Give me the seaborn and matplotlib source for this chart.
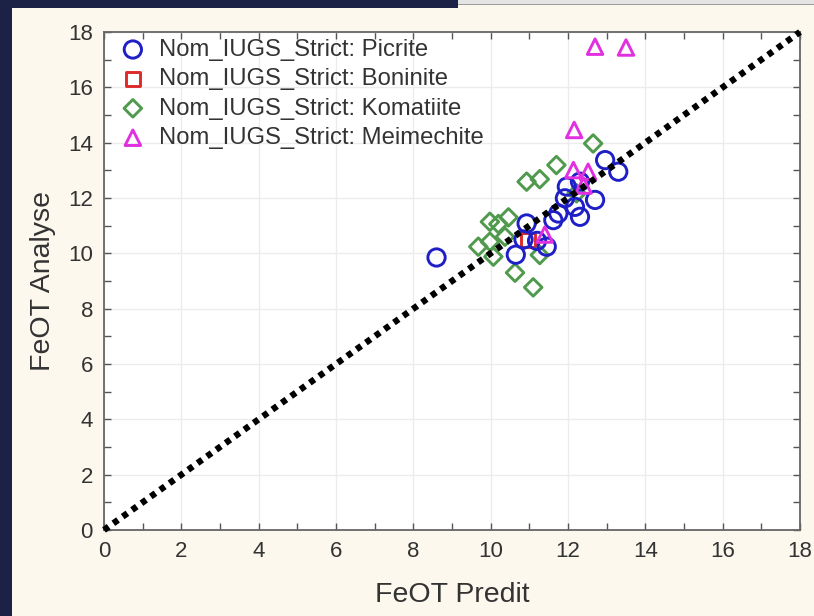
import matplotlib
matplotlib.use("Agg")
import matplotlib.pyplot as plt
import seaborn as sns
import pandas as pd
from matplotlib.patches import Rectangle

# ---- data ----
picrite_x = [8.6, 10.65, 10.85, 10.93, 11.2, 11.45, 11.62, 11.75, 11.92, 11.97, 12.18, 12.31, 12.31, 12.7, 12.96, 13.3]
picrite_y = [9.85, 9.95, 10.5, 11.08, 10.45, 10.24, 11.2, 11.44, 11.99, 12.41, 11.68, 11.32, 12.59, 11.93, 13.37, 12.95]

boninite_x = [10.97]
boninite_y = [10.48]

komatiite_x = [12.65, 11.7, 10.93, 11.27, 9.98, 10.2, 10.46, 9.68, 9.98, 10.07, 10.63, 11.1, 11.27, 10.37, 12.22]
komatiite_y = [13.97, 13.19, 12.59, 12.68, 11.14, 11.06, 11.3, 10.24, 10.42, 9.88, 9.3, 8.77, 9.94, 10.6, 12.17]

meimechite_x = [12.7, 13.5, 12.16, 12.14, 12.52, 12.4, 11.4]
meimechite_y = [17.47, 17.44, 14.46, 13.01, 12.95, 12.45, 10.68]

group_names = ["Nom_IUGS_Strict: Picrite", "Nom_IUGS_Strict: Boninite",
               "Nom_IUGS_Strict: Komatiite", "Nom_IUGS_Strict: Meimechite"]

line_x = [0, 18]
line_y = [0, 18]

x_ticks = [0, 2, 4, 6, 8, 10, 12, 14, 16, 18]
y_ticks = [0, 2, 4, 6, 8, 10, 12, 14, 16, 18]

# ---- style ----
sns.set_theme(style="white")
plt.rcParams['font.family'] = ['Liberation Sans', 'DejaVu Sans']

fig = plt.figure(figsize=(8.14, 6.16), dpi=100)
fig.patch.set_facecolor("#fcf8ee")

# decorative frame (screenshot borders)
fig.patches.append(Rectangle((0, 0), 12/814, 1, transform=fig.transFigure,
                             facecolor="#1c2246", edgecolor="none", zorder=0))
fig.patches.append(Rectangle((0, 1-8/616), 458/814, 8/616, transform=fig.transFigure,
                             facecolor="#1c2246", edgecolor="none", zorder=0))
fig.patches.append(Rectangle((458/814, 1-4/616), 1-458/814, 4/616, transform=fig.transFigure,
                             facecolor="#e4e4e4", edgecolor="none", zorder=0))
fig.patches.append(Rectangle((458/814, 1-5/616), 1-458/814, 1.2/616, transform=fig.transFigure,
                             facecolor="#9a9a9a", edgecolor="none", zorder=0))

ax = fig.add_axes([104/814, 1-530/616, 696/814, 498/616])
ax.set_facecolor("white")

specs = [
    (picrite_x, picrite_y, group_names[0], "o", "#1f1fc8", 155, 3),
    (boninite_x, boninite_y, group_names[1], "s", "#dd2a2a", 110, 2),
    (komatiite_x, komatiite_y, group_names[2], "D", "#4f9a4d", 80, 2),
    (meimechite_x, meimechite_y, group_names[3], "^", "#e030e0", 125, 4),
]
for xs, ys, name, mk, col, size, z in specs:
    df = pd.DataFrame({"FeOT Predit": xs, "FeOT Analyse": ys})
    sns.scatterplot(data=df, x="FeOT Predit", y="FeOT Analyse", ax=ax,
                    marker=mk, s=size, facecolors="none", edgecolor=col,
                    linewidth=2.1, label=name, zorder=z)

ax.plot(line_x, line_y, color="black", lw=4.6, linestyle=(0, (0.9, 0.9)),
        dash_capstyle="butt", zorder=6, clip_on=False)

ax.set_xlim(0, 18)
ax.set_ylim(0, 18)
ax.set_xticks(x_ticks)
ax.set_yticks(y_ticks)
ax.set_xticks(range(0, 19), minor=True)
ax.set_yticks(range(0, 19), minor=True)
ax.grid(True, which="major", color="#ececec", lw=1.0, zorder=0)
ax.set_axisbelow(True)
ax.tick_params(which="both", direction="in", top=True, right=True, bottom=True, left=True,
               length=5, width=1, color="#555555")
ax.tick_params(which="major", labelsize=16, labelcolor="#333333", pad=8)
for sp in ax.spines.values():
    sp.set_color("#666666")
    sp.set_linewidth(1.3)

ax.set_xlabel("FeOT Predit", fontsize=20.5, color="#333333", labelpad=14)
ax.set_ylabel("FeOT Analyse", fontsize=20.5, color="#333333", labelpad=9)

leg = ax.legend(loc="upper left", bbox_to_anchor=(0.014, 0.996), frameon=False,
                fontsize=17.2, handletextpad=0.5, labelspacing=0.31,
                borderaxespad=0.0, handlelength=1.2, borderpad=0.2,
                labelcolor="#333333")

fig.savefig("out.png", dpi=100, facecolor=fig.get_facecolor())
